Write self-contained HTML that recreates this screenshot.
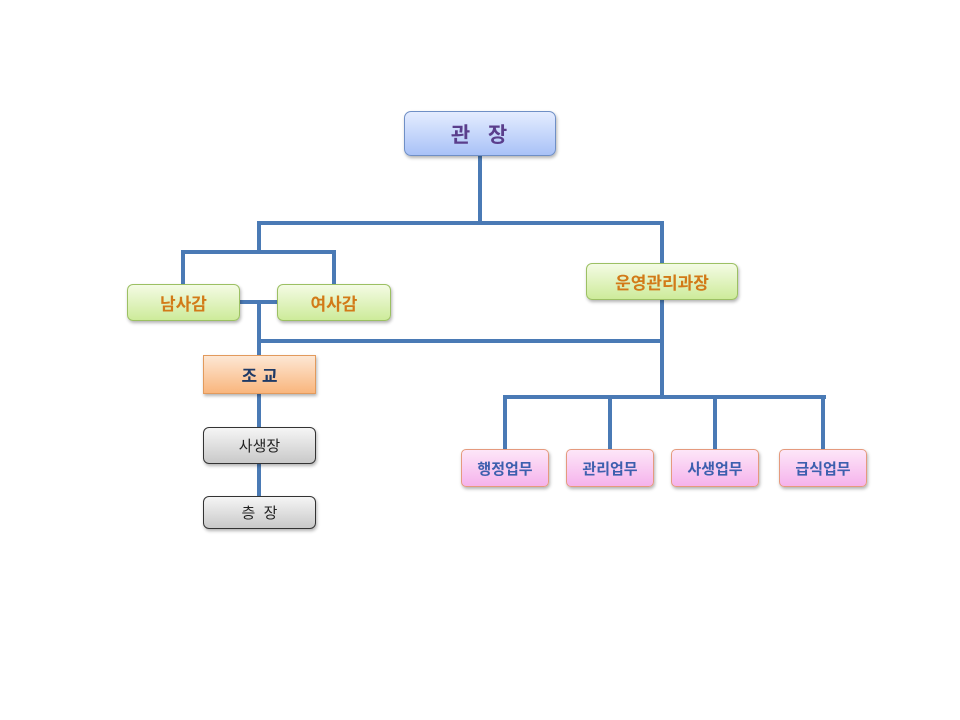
<!DOCTYPE html>
<html><head><meta charset="utf-8"><style>
body{margin:0;width:960px;height:720px;background:#fff;position:relative;overflow:hidden;font-family:"Liberation Sans","Noto Sans CJK KR","NanumGothic",sans-serif}
.b{position:absolute;box-sizing:border-box;display:flex;align-items:center;justify-content:center;font-weight:bold;box-shadow:1px 2px 3px rgba(0,0,0,.3)}
.l{position:absolute;background:#4a7ab5}
.blue{background:linear-gradient(#e4ecff,#a9c2f7);border:1px solid #6f8fc6;border-radius:7px;color:#5a3e8c;font-size:21px;letter-spacing:2px}
.green{background:linear-gradient(#f4fbe4,#cdeb9a);border:1px solid #9cc063;border-radius:6px;color:#d27a18;font-size:17px}
.orange{background:linear-gradient(#fde7d4,#f9b67d);border:1px solid #e29a5c;color:#1f3a66;font-size:17px}
.gray{background:linear-gradient(#f5f5f5,#c9c9c9);border:1px solid #333;border-radius:6px;color:#222;font-size:15px;font-weight:normal}
.pink{background:linear-gradient(#fde6f8,#f5b3ec);border:1px solid #e59a7e;border-radius:5px;color:#3d5fae;font-size:15px}
</style></head><body>
<div class="l" style="left:478px;top:156px;width:4px;height:69px"></div>
<div class="l" style="left:257px;top:221px;width:407px;height:4px"></div>
<div class="l" style="left:257px;top:221px;width:4px;height:33px"></div>
<div class="l" style="left:181px;top:250px;width:155px;height:4px"></div>
<div class="l" style="left:181px;top:250px;width:4px;height:35px"></div>
<div class="l" style="left:332px;top:250px;width:4px;height:35px"></div>
<div class="l" style="left:240px;top:300px;width:37px;height:4px"></div>
<div class="l" style="left:257px;top:300px;width:4px;height:56px"></div>
<div class="l" style="left:257px;top:339px;width:407px;height:4px"></div>
<div class="l" style="left:660px;top:221px;width:4px;height:43px"></div>
<div class="l" style="left:660px;top:300px;width:4px;height:99px"></div>
<div class="l" style="left:503px;top:395px;width:323px;height:4px"></div>
<div class="l" style="left:503px;top:395px;width:4px;height:55px"></div>
<div class="l" style="left:608px;top:395px;width:4px;height:55px"></div>
<div class="l" style="left:713px;top:395px;width:4px;height:55px"></div>
<div class="l" style="left:821px;top:395px;width:4px;height:55px"></div>
<div class="l" style="left:257px;top:394px;width:4px;height:34px"></div>
<div class="l" style="left:257px;top:464px;width:4px;height:33px"></div>

<div class="b blue" style="left:404px;top:111px;width:152px;height:45px">관&nbsp;&nbsp;장</div>
<div class="b green" style="left:127px;top:284px;width:113px;height:37px">남사감</div>
<div class="b green" style="left:277px;top:284px;width:114px;height:37px">여사감</div>
<div class="b green" style="left:586px;top:263px;width:152px;height:37px">운영관리과장</div>
<div class="b orange" style="left:203px;top:355px;width:113px;height:39px">조 교</div>
<div class="b gray" style="left:203px;top:427px;width:113px;height:37px">사생장</div>
<div class="b gray" style="left:203px;top:496px;width:113px;height:33px">층&nbsp;&nbsp;장</div>
<div class="b pink" style="left:461px;top:449px;width:88px;height:38px">행정업무</div>
<div class="b pink" style="left:566px;top:449px;width:88px;height:38px">관리업무</div>
<div class="b pink" style="left:671px;top:449px;width:88px;height:38px">사생업무</div>
<div class="b pink" style="left:779px;top:449px;width:88px;height:38px">급식업무</div>
</body></html>
